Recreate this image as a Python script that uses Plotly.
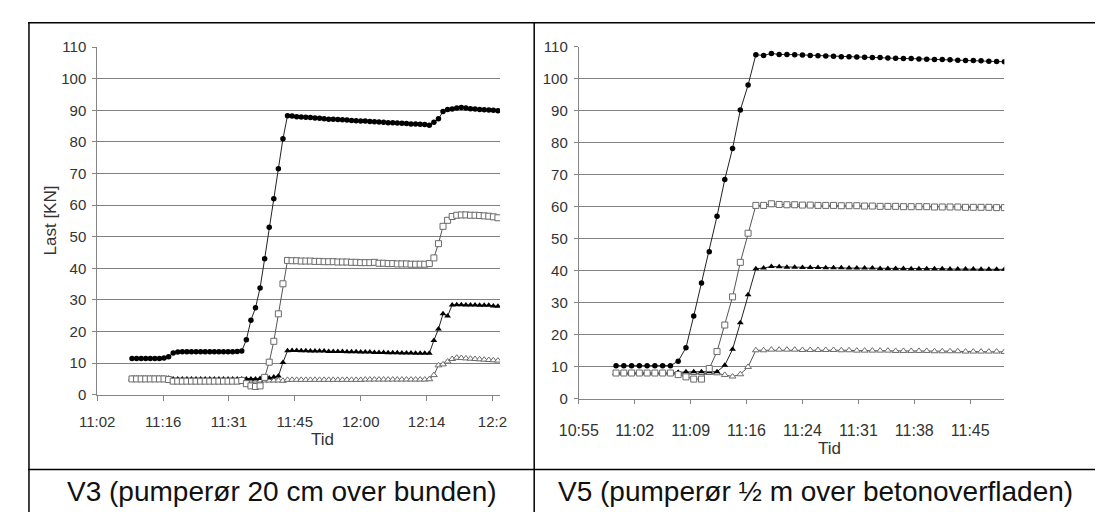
import plotly.graph_objects as go

# ---------------- data ----------------
LEFT_TIMES = [
    "11:10", "11:11", "11:12", "11:13", "11:14", "11:15", "11:16", "11:17", "11:18", "11:19",
    "11:20", "11:21", "11:22", "11:23", "11:24", "11:25", "11:26", "11:27", "11:28", "11:29",
    "11:30", "11:31", "11:32", "11:33", "11:34", "11:35", "11:36", "11:37", "11:38", "11:39",
    "11:40", "11:41", "11:42", "11:43", "11:44", "11:45", "11:46", "11:47", "11:48", "11:49",
    "11:50", "11:51", "11:52", "11:53", "11:54", "11:55", "11:56", "11:57", "11:58", "11:59",
    "12:00", "12:01", "12:02", "12:03", "12:04", "12:05", "12:06", "12:07", "12:08", "12:09",
    "12:10", "12:11", "12:12", "12:13", "12:14", "12:15", "12:16", "12:17", "12:18", "12:19",
    "12:20", "12:21", "12:22", "12:23", "12:24", "12:25", "12:26", "12:27", "12:28", "12:29",
    "12:30",
]
V3_CIRCLE = [
    11.5, 11.5, 11.5, 11.5, 11.5, 11.5, 11.5, 11.6, 12.0,
    13.2, 13.5, 13.6, 13.6, 13.6, 13.6, 13.6, 13.6, 13.6, 13.6, 13.6, 13.6, 13.6, 13.6, 13.7, 13.8,
    17.4, 23.6, 27.5, 33.8, 43.0, 53.0, 62.0, 71.5, 81.0, 88.3,
    88.2, 88.0, 87.9, 87.8, 87.7, 87.6, 87.5, 87.3, 87.2, 87.2, 87.1, 87.0, 86.9, 86.8, 86.7,
    86.6, 86.6, 86.5, 86.4, 86.3, 86.2, 86.1, 86.1, 86.0, 85.9, 85.8, 85.7, 85.7, 85.6, 85.5,
    85.3, 86.2, 87.3, 89.6, 90.3, 90.4, 90.7, 90.9, 90.7, 90.5, 90.4, 90.3, 90.2, 90.1, 90.0, 89.9,
]
V3_SQUARE = [
    5.0, 5.0, 5.0, 5.0, 5.0, 5.0, 5.0, 5.0, 4.8,
    4.3, 4.3, 4.3, 4.3, 4.3, 4.3, 4.3, 4.3, 4.3, 4.3, 4.3, 4.3, 4.3, 4.3, 4.3,
    4.5, 3.5, 2.8, 2.6, 2.8, 5.5,
    10.3, 16.9, 25.6, 35.1,
    42.5, 42.4, 42.4, 42.3, 42.3, 42.3, 42.2, 42.2, 42.1, 42.1, 42.1, 42.0, 42.0, 42.0, 41.9, 41.9,
    41.8, 41.8, 41.8, 41.9, 41.6, 41.6, 41.5, 41.5, 41.4, 41.4, 41.4, 41.3, 41.3, 41.3, 41.3,
    41.5, 43.3, 47.8, 53.3, 55.2, 56.4, 56.8, 56.9, 56.9, 56.8, 56.8, 56.7, 56.6, 56.5, 56.3, 56.0,
]
V3_TRIANGLE = [
    5.2, 5.2, 5.2, 5.2, 5.2, 5.2, 5.2, 5.2, 5.2,
    5.0, 5.0, 5.0, 5.0, 5.0, 5.0, 5.0, 5.0, 5.0, 5.0, 5.0, 5.0, 5.0, 5.0, 5.0, 5.0,
    5.0, 5.0, 5.0, 5.1, 5.1, 5.3, 5.6,
    5.9, 10.2,
    13.9, 14.0, 14.0, 13.9, 13.9, 13.8, 13.8, 13.8, 13.8, 13.7, 13.7, 13.7, 13.7, 13.6, 13.6, 13.6,
    13.5, 13.5, 13.5, 13.4, 13.4, 13.4, 13.3, 13.3, 13.3, 13.2, 13.2, 13.2, 13.1, 13.1, 13.1,
    13.1, 17.2, 20.8, 25.6, 24.9, 28.4, 28.5, 28.5, 28.4, 28.4, 28.4, 28.3, 28.3, 28.3, 28.1, 28.0,
]
V3_TRIANGLE_OPEN = [
    5.0, 5.0, 5.0, 5.0, 5.0, 5.0, 5.0, 5.0, 5.0,
    4.5, 4.5, 4.5, 4.5, 4.5, 4.5, 4.5, 4.5, 4.5, 4.5, 4.5, 4.5, 4.5, 4.5, 4.5, 4.5,
    4.5, 4.5, 4.5, 4.5, 4.5, 4.5, 4.5, 4.5,
    4.4,
    4.7, 4.7, 4.7, 4.7, 4.7, 4.7, 4.7, 4.7, 4.7, 4.7, 4.7, 4.7, 4.7, 4.7, 4.7, 4.7,
    4.7, 4.8, 4.8, 4.8, 4.8, 4.8, 4.8, 4.8, 4.8, 4.8, 4.8, 4.8, 4.8, 4.8, 4.8,
    4.9, 6.2, 9.3, 9.6, 10.5, 11.3, 11.7, 11.6, 11.5, 11.4, 11.3, 11.2, 11.1, 11.0, 10.9, 10.8,
]

RIGHT_TIMES = [
    "11:00", "11:01", "11:02", "11:03", "11:04", "11:05", "11:06", "11:07", "11:08", "11:09",
    "11:10", "11:11", "11:12", "11:13", "11:14", "11:15", "11:16", "11:17", "11:18", "11:19",
    "11:20", "11:21", "11:22", "11:23", "11:24", "11:25", "11:26", "11:27", "11:28", "11:29",
    "11:30", "11:31", "11:32", "11:33", "11:34", "11:35", "11:36", "11:37", "11:38", "11:39",
    "11:40", "11:41", "11:42", "11:43", "11:44", "11:45", "11:46", "11:47", "11:48", "11:49",
    "11:50",
]
V5_CIRCLE = [
    10.3, 10.3, 10.3, 10.3, 10.3, 10.3, 10.3, 10.3,
    11.7, 15.9, 25.8, 36.1, 45.9, 57.0, 68.5, 78.2, 90.2, 98.0, 107.5,
    107.3, 107.9, 107.6, 107.6, 107.5, 107.4, 107.3, 107.2, 107.1, 107.0, 106.9, 106.9, 106.8,
    106.7, 106.6, 106.6, 106.5, 106.4, 106.3, 106.3, 106.2, 106.1, 106.0, 106.0, 105.9, 105.8,
    105.7, 105.7, 105.6, 105.5, 105.4, 105.3,
]
V5_SQUARE = [
    8.0, 8.0, 8.0, 8.0, 8.0, 8.0, 8.0, 8.0,
    7.5, 6.8, 6.1, 6.1, 9.4, 14.7, 23.0, 31.8, 42.6, 51.7, 60.4,
    60.4, 60.9, 60.7, 60.6, 60.6, 60.5, 60.5, 60.4, 60.4, 60.4, 60.3, 60.3, 60.3, 60.2, 60.2,
    60.1, 60.1, 60.1, 60.0, 60.0, 60.0, 60.0, 59.9, 59.9, 59.9, 59.9, 59.8, 59.8, 59.8, 59.8,
    59.7, 59.7,
]
V5_TRIANGLE = [
    7.9, 7.9, 7.9, 7.9, 7.9, 7.9, 7.9, 7.9,
    8.2, 8.4, 8.4, 8.4, 8.4, 8.4, 10.4, 15.4, 23.7, 32.5, 40.6,
    40.8, 41.3, 41.2, 41.1, 41.1, 41.0, 41.0, 41.0, 40.9, 40.9, 40.9, 40.8, 40.8, 40.8, 40.8,
    40.7, 40.7, 40.7, 40.7, 40.6, 40.6, 40.6, 40.6, 40.6, 40.5, 40.5, 40.5, 40.5, 40.4, 40.4,
    40.4, 40.4,
]
V5_TRIANGLE_OPEN = [
    8.0, 8.0, 8.0, 8.0, 8.0, 8.0, 8.0, 8.0,
    8.0, 8.0, 8.0, 8.0, 8.0, 7.9, 7.4, 6.9, 7.6, 9.9, 15.1,
    15.1, 15.3, 15.3, 15.3, 15.3, 15.2, 15.2, 15.2, 15.2, 15.2, 15.1, 15.1, 15.0, 15.0, 15.0,
    15.0, 15.0, 14.9, 14.9, 14.9, 14.9, 14.9, 14.8, 14.8, 14.8, 14.8, 14.7, 14.7, 14.7, 14.7,
    14.7, 14.6,
]

LEFT_TICK_LABELS = ["11:02", "11:16", "11:31", "11:45", "12:00", "12:14", "12:2"]
LEFT_TICK_DAYS = [0.46, 0.47, 0.48, 0.49, 0.50, 0.51, 0.52]
RIGHT_TICK_LABELS = ["10:55", "11:02", "11:09", "11:16", "11:24", "11:31", "11:38", "11:45"]
RIGHT_TICK_DAYS = [0.455, 0.46, 0.465, 0.47, 0.475, 0.48, 0.485, 0.49]

Y_TITLE = "Last [KN]"
X_TITLE = "Tid"
CAPTION_LEFT = "V3 (pumperør 20 cm over bunden)"
CAPTION_RIGHT = "V5 (pumperør ½ m over betonoverfladen)"


def day_fraction(t):
    h, m = t.split(":")
    return (int(h) * 60 + int(m)) / 1440.0


# ---------------- layout geometry ----------------
# the page body has an 8px margin, so the figure starts at page (8, 8)
OFF = 8
W, H = 1103 - OFF, 520 - OFF
FONT = "Liberation Sans, Arial, sans-serif"


def px(x):
    return (x - OFF) / W


def py(y):
    return 1 - (y - OFF) / H


fig = go.Figure()

STYLES = [
    dict(symbol="triangle-up", size=6, color="white", line=dict(color="#6a6a6a", width=1), lc="#555555"),
    dict(symbol="triangle-up", size=6, color="black", line=dict(color="black", width=0), lc="#222222"),
    dict(symbol="square", size=6, color="white", line=dict(color="#6a6a6a", width=1), lc="#555555"),
    dict(symbol="circle", size=5.5, color="black", line=dict(color="black", width=0), lc="#222222"),
]


def add_series(times, values, style, xa, ya):
    fig.add_trace(go.Scatter(
        x=[day_fraction(t) for t in times], y=values, mode="lines+markers",
        line=dict(color=style["lc"], width=1),
        marker=dict(symbol=style["symbol"], size=style["size"], color=style["color"], line=style["line"]),
        xaxis=xa, yaxis=ya, showlegend=False, hoverinfo="x+y",
    ))


for vals, st in zip([V3_TRIANGLE_OPEN, V3_TRIANGLE, V3_SQUARE, V3_CIRCLE], STYLES):
    add_series(LEFT_TIMES, vals, st, "x", "y")
for vals, st in zip([V5_TRIANGLE_OPEN, V5_TRIANGLE, V5_SQUARE, V5_CIRCLE], STYLES):
    add_series(RIGHT_TIMES, vals, st, "x2", "y2")

axis_common = dict(showline=True, linecolor="#858585", linewidth=1, ticks="outside",
                   tickcolor="#858585", zeroline=False, fixedrange=True)

fig.update_layout(
    width=W, height=H, margin=dict(l=0, r=0, t=0, b=0),
    paper_bgcolor="white", plot_bgcolor="white",
    font=dict(family=FONT, color="#222222"),
    xaxis=dict(domain=[px(79), px(492)], range=[0.46, 0.52116], tickvals=LEFT_TICK_DAYS,
               ticktext=LEFT_TICK_LABELS, showgrid=False, ticklen=5, ticklabelstandoff=8,
               tickfont=dict(size=15, color="#333"), anchor="y", **axis_common),
    yaxis=dict(domain=[py(398.7), py(39)], range=[0, 110.05], dtick=10, showgrid=True,
               gridcolor="#808080", gridwidth=1, ticklen=4, ticklabelstandoff=3,
               tickfont=dict(size=15, color="#333"), anchor="x", **axis_common),
    xaxis2=dict(domain=[px(572.7), px(1009)], range=[0.455, 0.49305], tickvals=RIGHT_TICK_DAYS,
                ticktext=RIGHT_TICK_LABELS, showgrid=False, ticklen=4, ticklabelstandoff=13,
                tickfont=dict(size=16, color="#333"), anchor="y2", **axis_common),
    yaxis2=dict(domain=[py(402.7), py(38.6)], range=[0, 110.05], dtick=10, showgrid=True,
                gridcolor="#808080", gridwidth=1, ticklen=4, ticklabelstandoff=3,
                tickfont=dict(size=15, color="#333"), anchor="x2", **axis_common),
)

# axis titles and captions
ann = [
    dict(text=X_TITLE, x=px(310), y=py(445), font=dict(size=17, color="#333")),
    dict(text=X_TITLE, x=px(830), y=py(454), font=dict(size=17, color="#333")),
    dict(text=Y_TITLE, x=px(31), y=py(218), textangle=-90, font=dict(size=17, color="#333")),
    dict(text=CAPTION_LEFT, x=px(268), y=py(499), font=dict(size=28, color="#111")),
    dict(text=CAPTION_RIGHT, x=px(815), y=py(499), font=dict(size=28, color="#111")),
]
for a in ann:
    fig.add_annotation(xref="paper", yref="paper", showarrow=False, xanchor="center",
                       yanchor="middle", **a)

# table borders (page coordinates)
lines = [
    (8, 14, 1103, 14),
    (9, 14, 9, 520),
    (527, 14, 527, 520),
    (8, 476, 1103, 476),
]
for x0, y0, x1, y1 in lines:
    fig.add_shape(type="line", xref="paper", yref="paper", x0=px(x0), y0=py(y0), x1=px(x1), y1=py(y1),
                  line=dict(color="black", width=1.5), layer="above")

fig.write_html("out.html")
